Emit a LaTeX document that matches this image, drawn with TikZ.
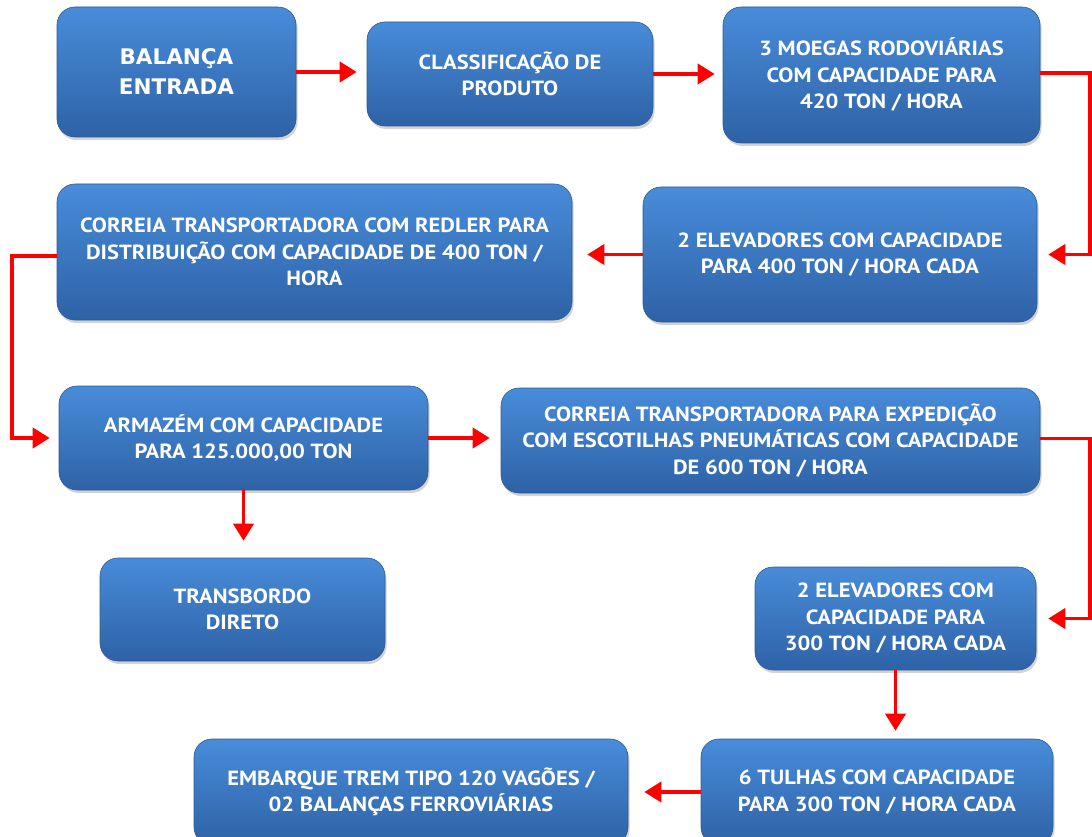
\documentclass[tikz,border=0pt]{standalone}
\usepackage{fontspec}
\setmainfont{PT Sans}[FakeStretch=1.1]
\newfontfamily\bigfont{DejaVu Sans}
\usetikzlibrary{shadows,arrows.meta}
\definecolor{boxtop}{RGB}{72,140,218}
\definecolor{boxbot}{RGB}{46,98,166}
\definecolor{boxedge}{RGB}{45,90,150}
\definecolor{arrred}{RGB}{255,0,0}
\tikzset{
  box/.style={rectangle, rounded corners=18pt, top color=boxtop, bottom color=boxbot,
    draw=boxedge, line width=0.6pt,
    drop shadow={shadow xshift=1.5pt, shadow yshift=-3pt, opacity=0.35},
    text=white, align=center, inner sep=4pt,
    font=\fontsize{20.5}{26.5}\selectfont\bfseries},
  arr/.style={draw=arrred, line width=3.8pt, -{Triangle[length=17pt,width=20pt]}},
}
\begin{document}
\begin{tikzpicture}[x=1pt,y=-1pt]
\useasboundingbox (0,0) rectangle (1092,837);
\clip (0,0) rectangle (1092,837);
\node[box, minimum width=239pt, minimum height=130pt, font=\fontsize{21.5}{30}\selectfont\bfseries\bigfont] (b1) at (176.5,72) {BALANÇA\\ENTRADA};
\node[box, minimum width=286pt, minimum height=104pt] (b2) at (510,74) {CLASSIFICAÇÃO DE\\PRODUTO};
\node[box, minimum width=317pt, minimum height=136pt] (b3) at (881.5,75) {3 MOEGAS RODOVIÁRIAS\\COM CAPACIDADE PARA\\420 TON / HORA};
\node[box, minimum width=394pt, minimum height=135pt] (b4) at (840,254.5) {2 ELEVADORES COM CAPACIDADE\\PARA 400 TON / HORA CADA};
\node[box, minimum width=515pt, minimum height=136pt] (b5) at (314.5,252) {CORREIA TRANSPORTADORA COM REDLER PARA\\DISTRIBUIÇÃO COM CAPACIDADE DE 400 TON /\\HORA};
\node[box, minimum width=369pt, minimum height=104pt] (b6) at (243.5,438) {ARMAZÉM COM CAPACIDADE\\PARA 125.000,00 TON};
\node[box, minimum width=539pt, minimum height=105pt] (b7) at (770.5,440.5) {CORREIA TRANSPORTADORA PARA EXPEDIÇÃO\\COM ESCOTILHAS PNEUMÁTICAS COM CAPACIDADE\\DE 600 TON / HORA};
\node[box, minimum width=281pt, minimum height=103pt] (b8) at (895.5,618.5) {2 ELEVADORES COM\\CAPACIDADE PARA\\300 TON / HORA CADA};
\node[box, minimum width=285pt, minimum height=103pt] (b9) at (242.5,609.5) {TRANSBORDO\\DIRETO};
\node[box, minimum width=352pt, minimum height=106pt] (b10) at (877,792) {6 TULHAS COM CAPACIDADE\\PARA 300 TON / HORA CADA};
\node[box, minimum width=434pt, minimum height=106pt] (b11) at (411,792) {EMBARQUE TREM TIPO 120 VAGÕES /\\02 BALANÇAS FERROVIÁRIAS};
\coordinate (rr) at (1090,0);
\coordinate (ll) at (12,0);
\draw[arr] (b1.east) -- ([xshift=-10pt]b1.east -| b2.west);
\draw[arr] (b2.east) -- ([xshift=-8pt]b2.east -| b3.west);
\draw[arr] ([yshift=2pt]b3.east) -- ([yshift=2pt]b3.east -| rr) |- ([xshift=11pt]b4.east);
\draw[arr] (b4.west) -- ([xshift=15pt]b4.west -| b5.east);
\draw[arr] ([yshift=-4pt]b5.west) -- ([yshift=-4pt]b5.west -| ll) |- ([xshift=-9pt]b6.west);
\draw[arr] (b6.east) -- ([xshift=-11pt]b6.east -| b7.west);
\draw[arr] (b6.south) -- ([yshift=17pt]b6.south |- b9.north);
\draw[arr] ([yshift=2pt]b7.east) -- ([yshift=2pt]b7.east -| rr) |- ([xshift=12pt]b8.east);
\draw[arr] (b8.south) -- ([yshift=8pt]b8.south |- b10.north);
\draw[arr] (b10.west) -- ([xshift=16pt]b10.west -| b11.east);
\end{tikzpicture}
\end{document}
